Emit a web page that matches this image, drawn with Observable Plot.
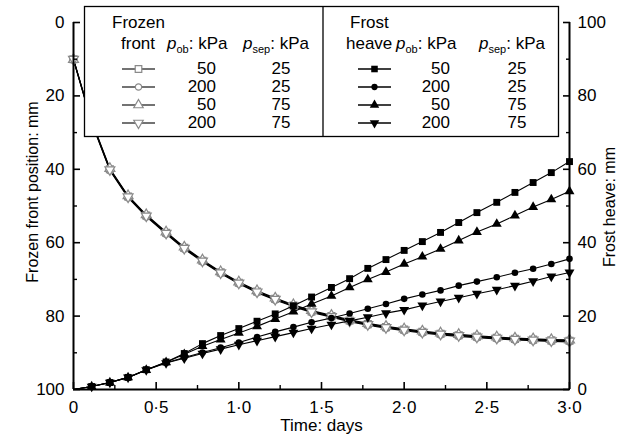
<!DOCTYPE html>
<html><head><meta charset="utf-8">
<script src="https://cdn.jsdelivr.net/npm/d3@7"></script>
<script src="https://cdn.jsdelivr.net/npm/@observablehq/plot@0.6"></script>
<style>body{margin:0;background:#fff} #chart{width:626px;height:439px}</style>
</head><body><div id="chart"></div>
<script>
// ---- data ----
const time = [0, 0.11, 0.22, 0.33, 0.44, 0.56, 0.67, 0.78, 0.89, 1.00, 1.11, 1.22, 1.33, 1.44, 1.56, 1.67, 1.78, 1.89, 2.00, 2.11, 2.22, 2.33, 2.44, 2.56, 2.67, 2.78, 2.89, 3.00];

// frozen front position (mm), left axis
const ffSquare = [10.0, 27.0, 40.0, 47.4, 52.6, 57.3, 61.4, 64.9, 68.1, 70.9, 73.3, 75.3, 77.1, 78.7, 80.0, 81.2, 82.2, 83.0, 83.7, 84.3, 84.8, 85.2, 85.6, 85.9, 86.2, 86.4, 86.6, 86.7];
const ffCircle = [10.2, 27.3, 40.3, 47.7, 52.9, 57.6, 61.7, 65.2, 68.4, 71.2, 73.6, 75.6, 77.4, 79.0, 80.3, 81.5, 82.5, 83.3, 84.0, 84.6, 85.1, 85.5, 85.9, 86.2, 86.5, 86.7, 86.9, 87.0];
const ffTriUp  = [10.1, 26.8, 39.8, 47.2, 52.4, 57.1, 61.2, 64.7, 67.9, 70.7, 73.1, 75.1, 76.9, 78.5, 79.8, 81.0, 82.0, 82.8, 83.5, 84.1, 84.6, 85.0, 85.4, 85.7, 86.0, 86.2, 86.4, 86.5];
const ffTriDn  = [10.0, 27.1, 40.1, 47.5, 52.7, 57.4, 61.5, 65.0, 68.2, 71.0, 73.4, 75.4, 77.2, 78.8, 80.1, 81.3, 82.3, 83.1, 83.8, 84.4, 84.9, 85.3, 85.7, 86.0, 86.3, 86.5, 86.7, 86.8];

// frost heave (mm), right axis
const fhSquare = [0, 0.8, 1.9, 3.3, 5.4, 7.5, 9.8, 12.5, 14.7, 16.6, 18.6, 20.6, 22.8, 25.2, 27.8, 30.2, 33.0, 35.4, 37.9, 40.3, 42.8, 45.5, 48.2, 51.0, 53.7, 56.4, 59.1, 62.1];
const fhCircle = [0, 0.8, 1.9, 3.3, 5.4, 7.3, 8.7, 10.1, 11.4, 12.8, 14.3, 15.7, 17.0, 18.3, 19.5, 20.7, 22.0, 23.3, 24.7, 25.9, 27.0, 28.3, 29.4, 30.6, 31.8, 32.9, 34.2, 35.6];
const fhTriUp  = [0, 0.8, 1.9, 3.3, 5.3, 7.4, 9.6, 11.8, 13.6, 15.4, 17.2, 19.2, 21.2, 23.3, 25.5, 27.8, 30.0, 32.0, 34.2, 36.2, 38.3, 40.6, 42.9, 45.1, 47.4, 49.7, 51.8, 54.0];
const fhTriDn  = [0, 0.8, 1.9, 3.3, 5.3, 7.2, 8.5, 9.8, 11.0, 12.2, 13.3, 14.4, 15.5, 16.6, 17.7, 18.7, 19.7, 20.8, 21.7, 22.9, 24.0, 25.0, 26.1, 27.2, 28.3, 29.5, 30.8, 31.9];

const pob = [50, 200, 50, 200];
const psep = [25, 25, 75, 75];

const xMajor = [0, 0.5, 1.0, 1.5, 2.0, 2.5, 3.0];
const xMinor = [0.25, 0.75, 1.25, 1.75, 2.25, 2.75];
const yMajor = [0, 20, 40, 60, 80, 100];
const yMinor = [10, 30, 50, 70, 90];

// ---- symbols ----
const triDown = {draw(context, size) {
  const s3 = Math.sqrt(3);
  const y = -Math.sqrt(size / (s3 * 3));
  context.moveTo(0, -y * 2);
  context.lineTo(-s3 * y, y);
  context.lineTo(s3 * y, y);
  context.closePath();
}};
const symbols = [d3.symbolSquare, d3.symbolCircle, d3.symbolTriangle, triDown];
const plotSymbols = ["square", "circle", "triangle", triDown];
const radii = [3.9, 3.3, 3.7, 3.7];

const frozen = [ffSquare, ffCircle, ffTriUp, ffTriDn];
const heave = [fhSquare, fhCircle, fhTriUp, fhTriDn];

const frozenRows = frozen.map(vals => vals.map((v, i) => ({t: time[i], y: v})));
const heaveRows = heave.map(vals => vals.map((v, i) => ({t: time[i], y: 100 - v})));

const fmtX = d => d === 0 ? "0" : d.toFixed(1).replace(".", "\u00B7");
const FONT = "'Liberation Sans', Arial, Helvetica, sans-serif";

const marks = [];
frozenRows.forEach(rows => marks.push(Plot.line(rows, {x: "t", y: "y", stroke: "#000", strokeWidth: 1.2})));
frozenRows.forEach((rows, k) => marks.push(Plot.dot(rows, {x: "t", y: "y", symbol: plotSymbols[k], r: radii[k], fill: "#fff", stroke: "#8a8a8a", strokeWidth: 1.2})));
heaveRows.forEach(rows => marks.push(Plot.line(rows, {x: "t", y: "y", stroke: "#000", strokeWidth: 1.1})));
heaveRows.forEach((rows, k) => marks.push(Plot.dot(rows.filter(d => d.t > 0), {x: "t", y: "y", symbol: plotSymbols[k], r: radii[k], fill: "#000", stroke: "none"})));

marks.push(
  Plot.ruleX([0], {strokeWidth: 2}),
  Plot.ruleX([3], {strokeWidth: 2}),
  Plot.ruleY([100], {strokeWidth: 2}),
  Plot.axisX(xMajor, {tickSize: -7, tickPadding: 18, tickFormat: fmtX, strokeWidth: 1.6, label: null}),
  Plot.axisX(xMinor, {tickSize: -4, tickPadding: 0, tickFormat: () => "", strokeWidth: 1.4, label: null}),
  Plot.axisY(yMajor, {anchor: "left", tickSize: -7, tickPadding: 16, tickFormat: d => String(d), strokeWidth: 1.6, label: null}),
  Plot.axisY(yMinor, {anchor: "left", tickSize: -4, tickPadding: 0, tickFormat: () => "", strokeWidth: 1.4, label: null}),
  Plot.axisY(yMajor, {anchor: "right", tickSize: -7, tickPadding: 15, tickFormat: d => String(100 - d), strokeWidth: 1.6, label: null}),
  Plot.axisY(yMinor, {anchor: "right", tickSize: -4, tickPadding: 0, tickFormat: () => "", strokeWidth: 1.4, label: null}),
  Plot.text(["Time: days"], {frameAnchor: "bottom", textAnchor: "middle", dy: 36, lineAnchor: "middle", fontSize: 17}),
  Plot.text(["Frozen front position: mm"], {frameAnchor: "left", textAnchor: "middle", rotate: -90, dx: -41, dy: -14, lineAnchor: "middle", fontSize: 16}),
  Plot.text(["Frost heave: mm"], {frameAnchor: "right", textAnchor: "middle", rotate: -90, dx: 40, dy: 1, lineAnchor: "middle", fontSize: 16})
);

const plot = Plot.plot({
  width: 626, height: 439,
  marginLeft: 73, marginRight: 57, marginTop: 22, marginBottom: 50,
  style: {fontFamily: FONT, fontSize: "17px", color: "#000", background: "#fff", overflow: "visible"},
  x: {domain: [0, 3], label: null},
  y: {domain: [0, 100], reverse: true, label: null},
  marks
});
document.getElementById("chart").appendChild(plot);

// ---- legend box ----
const svg = d3.select(plot);
const g = svg.append("g").attr("font-family", FONT).attr("font-size", 17).attr("fill", "#000").attr("text-anchor", "start");
g.append("rect").attr("x", 84.5).attr("y", 6.5).attr("width", 474).attr("height", 130)
  .attr("fill", "#fff").attr("stroke", "#000").attr("stroke-width", 1.3);
g.append("line").attr("x1", 323).attr("x2", 323).attr("y1", 6.5).attr("y2", 136.5)
  .attr("stroke", "#000").attr("stroke-width", 1.3);

function pLabel(x, y, sub) {
  const t = g.append("text").attr("x", x).attr("y", y).attr("text-anchor", "start");
  t.append("tspan").attr("font-style", "italic").text("p");
  t.append("tspan").attr("font-size", 11).attr("dy", 4).text(sub);
  t.append("tspan").attr("dy", -4).text(": kPa");
}
const halves = [
  {t1: "Frozen", t1x: 112, t2: "front", t2x: 121, pobx: 167, psepx: 243, lx1: 122, lx2: 155, numR: 216, sepC: 281,
   line: "#444", fill: "#fff", stroke: "#8a8a8a"},
  {t1: "Frost", t1x: 350, t2: "heave", t2x: 346, pobx: 396, psepx: 479, lx1: 358, lx2: 391, numR: 450, sepC: 517,
   line: "#000", fill: "#000", stroke: "none"}
];
const rowBase = [74, 92, 110, 128];
halves.forEach(h => {
  g.append("text").attr("x", h.t1x).attr("y", 28).attr("text-anchor", "start").text(h.t1);
  g.append("text").attr("x", h.t2x).attr("y", 49).attr("text-anchor", "start").text(h.t2);
  pLabel(h.pobx, 49, "ob");
  pLabel(h.psepx, 49, "sep");
  pob.forEach((p, k) => {
    const yb = rowBase[k];
    const cy = yb - 5;
    g.append("line").attr("x1", h.lx1).attr("x2", h.lx2).attr("y1", cy).attr("y2", cy)
      .attr("stroke", h.line).attr("stroke-width", 1.4);
    g.append("path").attr("d", d3.symbol().type(symbols[k]).size(Math.PI * radii[k] * radii[k] * 0.9)())
      .attr("transform", `translate(${(h.lx1 + h.lx2) / 2},${cy})`)
      .attr("fill", h.fill).attr("stroke", h.stroke).attr("stroke-width", 1.2);
    g.append("text").attr("x", h.numR).attr("y", yb).attr("text-anchor", "end").text(p);
    g.append("text").attr("x", h.sepC).attr("y", yb).attr("text-anchor", "middle").text(psep[k]);
  });
});
</script>
</body></html>
